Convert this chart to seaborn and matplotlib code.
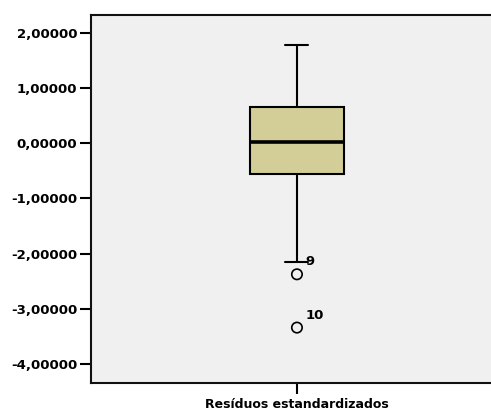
import numpy as np
import pandas as pd
import matplotlib
matplotlib.use('Agg')
from matplotlib import pyplot as plt
import seaborn as sns

# standardized residuals, summary
box_stats = [-2.157, -0.555, 0.025, 0.653, 1.776]  # low whisker, Q1, median, Q3, high whisker
outlier_values = [-2.374, -3.34]
outlier_cases = ['9', '10']
ytick_values = [2, 1, 0, -1, -2, -3, -4]
ytick_labels = ['2,00000', '1,00000', '0,00000', '-1,00000', '-2,00000', '-3,00000', '-4,00000']
var_name = 'Resíduos estandardizados'

sns.set_style('ticks', {'axes.facecolor': '#F0F0F0', 'axes.edgecolor': '#111111',
                        'text.color': 'black', 'axes.labelcolor': 'black'})
plt.rcParams['font.family'] = ['DejaVu Sans']
plt.rcParams['font.weight'] = 'bold'

fig = plt.figure(figsize=(4.91, 4.12), dpi=100)
ax = fig.add_axes([0.1853, 0.0711, 0.839, 0.8925])

box_df = pd.DataFrame({'var': var_name, 'value': box_stats})
out_df = pd.DataFrame({'var': var_name, 'value': outlier_values})

# whis=(0, 100) so the whiskers land on the lowest / highest summary value
sns.boxplot(data=box_df, x='var', y='value', whis=(0, 100), width=0.227,
            color='#D3CE98', saturation=1, linecolor='black', linewidth=1.5,
            showfliers=False, capwidths=0.056,
            medianprops={'linewidth': 2.6}, ax=ax)

sns.stripplot(data=out_df, x='var', y='value', jitter=False, size=7.5,
              color='black', linewidth=1.2, ax=ax)
pts = ax.collections[-1]
pts.set_facecolor('none')
pts.set_edgecolor('black')

for val, case in zip(outlier_values, outlier_cases):
    ax.annotate(case, (0, val), xytext=(6, 9), textcoords='offset points',
                fontsize=9.5, fontweight='bold', va='center', ha='left',
                color='black')

ax.set_xlim(-0.5, 0.5)
ax.set_ylim(-4.339, 2.326)
ax.set_yticks(ytick_values)
ax.set_yticklabels(ytick_labels)
ax.set_xticks([0])
ax.set_xticklabels([''])
ax.set_ylabel('')
ax.set_xlabel(var_name, fontsize=9, fontweight='bold', labelpad=1)
ax.tick_params(direction='out', length=8, width=1.5, pad=2, labelsize=9.5,
               colors='black')
for s in ax.spines.values():
    s.set_linewidth(1.5)

fig.savefig('out.png', dpi=100)
